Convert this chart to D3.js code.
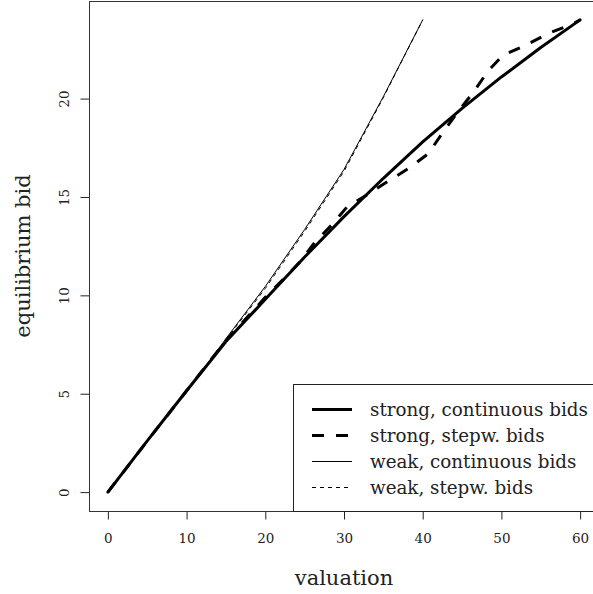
<!DOCTYPE html>
<html>
<head>
<meta charset="utf-8">
<script src="https://cdn.jsdelivr.net/npm/d3@7"></script>
<style>
  body { margin: 0; background: #fff; }
  svg { display: block; font-family: "DejaVu Serif", serif; }
</style>
</head>
<body>
<svg id="chart"></svg>
<script>
// equilibrium bids
const strongContV = [0, 5, 10, 15, 20, 25, 30, 35, 40, 45, 50, 55, 60];
const strongContB = [0, 2.6, 5.15, 7.65, 9.8, 11.95, 14.0, 15.95, 17.8, 19.5, 21.1, 22.6, 24.0];

const strongStepV = [0, 5, 10, 15, 20, 22.5, 24.4, 26.3, 28.5, 30.4, 32.9, 35.6, 38.4, 40.7, 42.6, 44.7, 46.4, 48.3, 50.2, 53, 55.9, 59.1, 60];
const strongStepB = [0, 2.6, 5.15, 7.7, 9.9, 10.9, 11.7, 12.7, 13.6, 14.5, 15.1, 15.8, 16.5, 17.2, 18.3, 19.45, 20.3, 21.4, 22.2, 22.7, 23.3, 23.8, 24.0];

const weakContV = [0, 5, 10, 12.5, 15, 20, 25, 30, 35, 40];
const weakContB = [0, 2.6, 5.15, 6.45, 7.8, 10.45, 13.35, 16.4, 20.1, 24.0];

const weakStepV = [0, 5, 10, 12.5, 15, 20, 25, 30, 35, 40];
const weakStepB = [0, 2.6, 5.15, 6.42, 7.75, 10.35, 13.25, 16.3, 20.05, 24.0];

const xTicks = [0, 10, 20, 30, 40, 50, 60];
const yTicks = [0, 5, 10, 15, 20];
const legendLabels = ["strong, continuous bids", "strong, stepw. bids", "weak, continuous bids", "weak, stepw. bids"];

const width = 593, height = 594;
const plot = { left: 89, right: 599, top: 1, bottom: 511 };

const svg = d3.select("#chart")
    .attr("width", width)
    .attr("height", height);

// R style 4% padding on the data range
const x = d3.scaleLinear().domain([-2.4, 62.4]).range([plot.left, plot.right]);
const y = d3.scaleLinear().domain([-0.96, 24.96]).range([plot.bottom, plot.top]);

// x axis
const xAxis = svg.append("g")
    .attr("transform", `translate(0, ${plot.bottom + 0.5})`)
    .call(d3.axisBottom(x).tickValues(xTicks).tickSize(8).tickSizeOuter(0).tickPadding(14));
xAxis.select(".domain").remove();
xAxis.selectAll("line").attr("stroke", "#222");
xAxis.selectAll("text")
    .style("font-family", "DejaVu Serif")
    .style("font-size", "13.5px")
    .attr("fill", "#222");

// y axis, labels turned like R's default
const yAxis = svg.append("g")
    .attr("transform", `translate(${plot.left + 0.5}, 0)`)
    .call(d3.axisLeft(y).tickValues(yTicks).tickSize(9).tickSizeOuter(0));
yAxis.select(".domain").remove();
yAxis.selectAll("line").attr("stroke", "#222");
yAxis.selectAll("text")
    .style("font-family", "DejaVu Serif")
    .style("font-size", "13.5px")
    .attr("fill", "#222")
    .attr("text-anchor", "middle")
    .attr("dy", null)
    .attr("x", null)
    .attr("transform", "translate(-21, 0) rotate(-90)");

// axis titles
svg.append("text")
    .attr("x", (x(0) + x(60)) / 2)
    .attr("y", 585)
    .attr("text-anchor", "middle")
    .style("font-size", "21px")
    .attr("fill", "#222")
    .text("valuation");

svg.append("text")
    .attr("transform", `translate(30, ${(plot.top + plot.bottom) / 2}) rotate(-90)`)
    .attr("text-anchor", "middle")
    .style("font-size", "21px")
    .attr("fill", "#222")
    .text("equilibrium bid");

// series
const series = [
    { v: strongContV, b: strongContB, w: 3, dash: null },
    { v: strongStepV, b: strongStepB, w: 3, dash: "12,12" },
    { v: weakContV, b: weakContB, w: 1, dash: null },
    { v: weakStepV, b: weakStepB, w: 1, dash: "4,4" }
];

const line = d3.line()
    .x(d => x(d[0]))
    .y(d => y(d[1]));

svg.append("g")
    .selectAll("path")
    .data(series)
    .join("path")
    .attr("d", s => line(s.v.map((v, i) => [v, s.b[i]])))
    .attr("fill", "none")
    .attr("stroke", "#000")
    .attr("stroke-width", s => s.w)
    .attr("stroke-dasharray", s => s.dash)
    .attr("stroke-linecap", s => s.dash ? "butt" : "round")
    .attr("stroke-linejoin", "round");

// plot frame
svg.append("rect")
    .attr("x", plot.left + 0.5)
    .attr("y", plot.top + 0.5)
    .attr("width", plot.right - plot.left)
    .attr("height", plot.bottom - plot.top)
    .attr("fill", "none")
    .attr("stroke", "#333")
    .attr("stroke-width", 1);

// legend, bottom right
const legend = svg.append("g");
legend.append("rect")
    .attr("x", 293.5)
    .attr("y", 384.5)
    .attr("width", plot.right - 293)
    .attr("height", plot.bottom - 384)
    .attr("fill", "#fff")
    .attr("stroke", "#222");

const rows = legend.selectAll("g.row")
    .data(series)
    .join("g")
    .attr("class", "row")
    .attr("transform", (d, i) => `translate(0, ${409.5 + i * 26})`);

rows.append("line")
    .attr("x1", 312)
    .attr("x2", 352)
    .attr("stroke", "#000")
    .attr("stroke-width", d => d.w)
    .attr("stroke-dasharray", d => d.dash);

rows.append("text")
    .attr("x", 370)
    .attr("dy", "0.33em")
    .style("font-size", "18.3px")
    .attr("fill", "#222")
    .text((d, i) => legendLabels[i]);
</script>
</body>
</html>
